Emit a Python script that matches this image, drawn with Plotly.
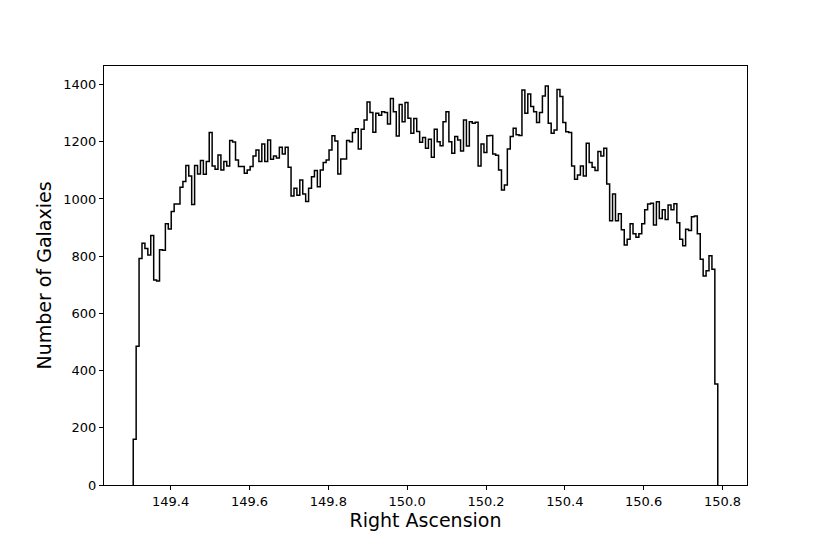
import plotly.graph_objects as go

# Histogram of galaxy Right Ascension (200 bins)
ra_min = 149.305
ra_max = 150.788
counts = [
    160, 485, 792, 845, 827, 804, 872, 717, 713, 822,
    821, 913, 895, 956, 982, 982, 1041, 1061, 1117, 1080,
    981, 1117, 1087, 1134, 1086, 1131, 1232, 1115, 1104, 1154,
    1101, 1131, 1115, 1204, 1199, 1136, 1113, 1113, 1090, 1101,
    1113, 1150, 1171, 1131, 1192, 1131, 1206, 1139, 1150, 1143,
    1181, 1157, 1181, 1111, 1010, 1037, 1013, 1066, 1017, 991,
    1037, 1078, 1099, 1043, 1101, 1127, 1136, 1171, 1221, 1203,
    1087, 1140, 1140, 1204, 1200, 1232, 1245, 1175, 1244, 1276,
    1339, 1302, 1233, 1300, 1293, 1305, 1302, 1262, 1351, 1305,
    1220, 1330, 1270, 1337, 1282, 1230, 1281, 1236, 1198, 1215,
    1177, 1209, 1146, 1244, 1200, 1186, 1270, 1305, 1200, 1160,
    1218, 1206, 1168, 1276, 1185, 1270, 1265, 1268, 1115, 1192,
    1162, 1221, 1222, 1157, 1153, 1101, 1031, 1049, 1175, 1218,
    1247, 1224, 1222, 1381, 1300, 1367, 1323, 1305, 1267, 1302,
    1360, 1395, 1265, 1230, 1241, 1383, 1358, 1267, 1235, 1232,
    1115, 1069, 1084, 1115, 1080, 1195, 1127, 1111, 1099, 1166,
    1150, 1177, 1052, 924, 1017, 924, 948, 892, 839, 859,
    913, 878, 866, 878, 913, 962, 982, 985, 909, 990,
    932, 962, 928, 979, 962, 983, 917, 859, 836, 894,
    890, 938, 940, 878, 789, 731, 749, 801, 754, 353,
]
x_ticks = [149.4, 149.6, 149.8, 150.0, 150.2, 150.4, 150.6, 150.8]
y_ticks = [0, 200, 400, 600, 800, 1000, 1200, 1400]

n = len(counts)
bw = (ra_max - ra_min) / n
edges = [ra_min + i * bw for i in range(n + 1)]

xs = [edges[0]] + edges
ys = [0] + counts + [0]

fig = go.Figure()
fig.add_trace(go.Scatter(
    x=xs, y=ys, mode="lines", line=dict(color="black", width=1.5, shape="hv"),
    hoverinfo="skip", showlegend=False,
))

span = ra_max - ra_min
font = "DejaVu Sans, Arial, sans-serif"
fig.update_layout(
    width=830, height=554,
    margin=dict(l=96, r=91, t=58, b=77),
    paper_bgcolor="white", plot_bgcolor="white",
    font=dict(family=font, color="black", size=13),
    xaxis=dict(
        range=[ra_min - 0.05 * span, ra_max + 0.05 * span],
        tickvals=x_ticks, ticktext=[f"{v:.1f}" for v in x_ticks],
        ticks="outside", ticklen=4, tickwidth=1, tickcolor="black",
        showline=True, mirror=True, linecolor="black", linewidth=1,
        showgrid=False, zeroline=False,
        title=dict(text="Right Ascension", font=dict(size=19, family=font), standoff=3),
        tickfont=dict(size=13, family=font),
    ),
    yaxis=dict(
        range=[0, max(counts) * 1.05],
        tickvals=y_ticks,
        ticks="outside", ticklen=4, tickwidth=1, tickcolor="black",
        showline=True, mirror=True, linecolor="black", linewidth=1,
        showgrid=False, zeroline=False,
        title=dict(text="Number of Galaxies", font=dict(size=19, family=font), standoff=6),
        tickfont=dict(size=13, family=font),
    ),
)

fig.write_html("out.html")
